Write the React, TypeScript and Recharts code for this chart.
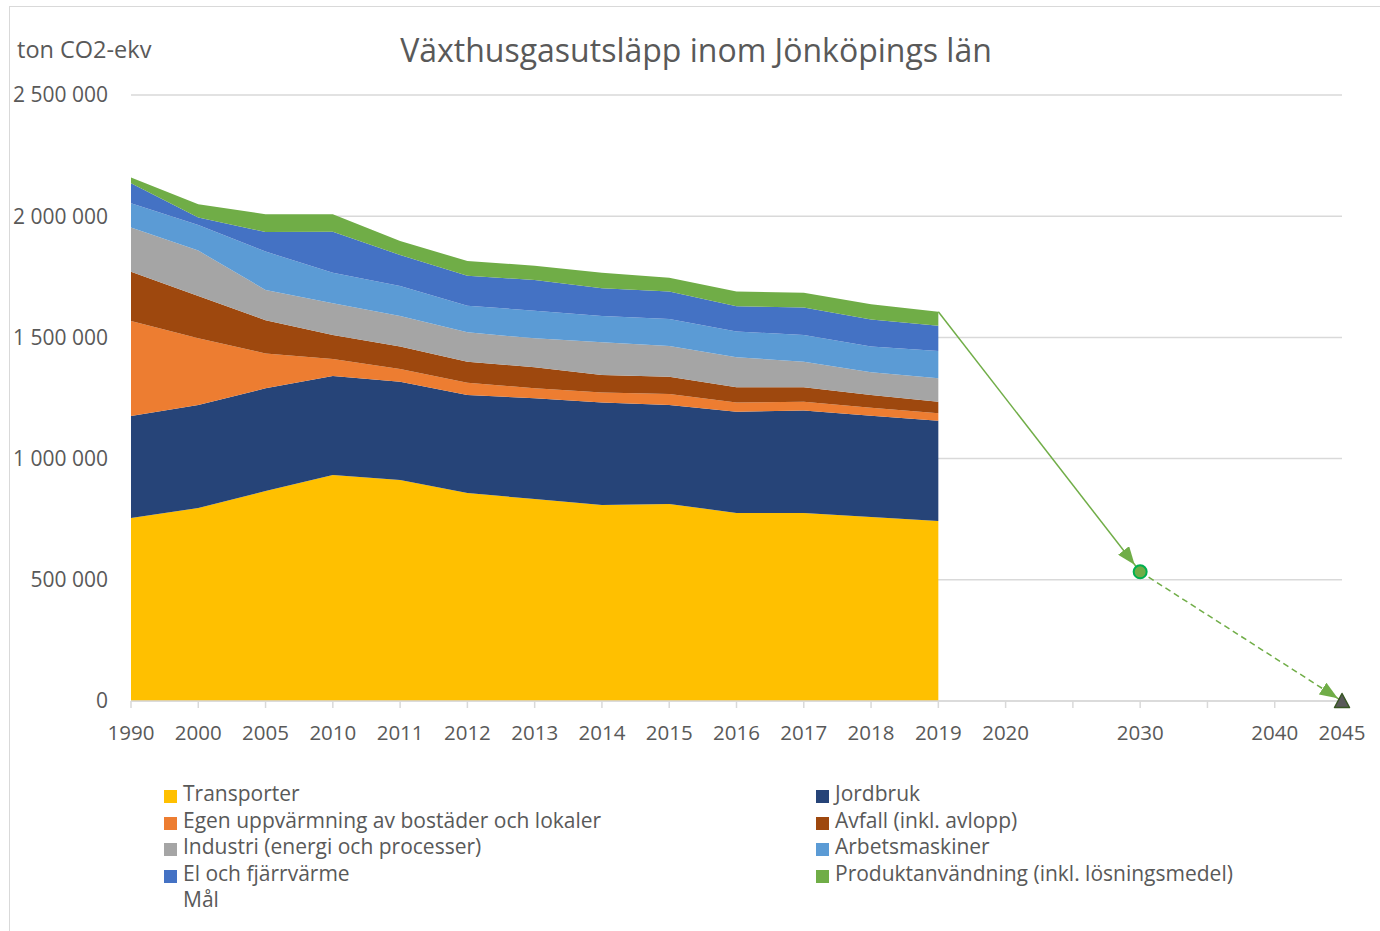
import React from 'react';
import { ComposedChart, Area, Line, XAxis, YAxis, CartesianGrid } from 'recharts';

const categories = ['1990', '2000', '2005', '2010', '2011', '2012', '2013', '2014', '2015', '2016', '2017', '2018', '2019', '2020', '2025', '2030', '2035', '2040', '2045'];
const tickLabels = ['1990', '2000', '2005', '2010', '2011', '2012', '2013', '2014', '2015', '2016', '2017', '2018', '2019', '2020', '', '2030', '', '2040', '2045'];

const N = null;
const transporter = [755000, 796000, 866000, 932000, 912000, 858000, 833000, 809000, 813000, 776000, 776000, 759000, 743000, N, N, N, N, N, N];
const jordbruk = [421000, 425000, 424000, 409000, 405000, 404000, 416000, 422000, 408000, 417000, 422000, 418000, 413000, N, N, N, N, N, N];
const egenUppvarmning = [392000, 275000, 144000, 70000, 53000, 51000, 41000, 42000, 46000, 38000, 37000, 33000, 31000, N, N, N, N, N, N];
const avfall = [203000, 175000, 137000, 99000, 92000, 87000, 87000, 72000, 71000, 63000, 59000, 52000, 48000, N, N, N, N, N, N];
const industri = [182000, 187000, 125000, 131000, 126000, 121000, 119000, 135000, 127000, 124000, 106000, 94000, 96000, N, N, N, N, N, N];
const arbetsmaskiner = [100000, 106000, 158000, 126000, 124000, 110000, 114000, 108000, 111000, 106000, 110000, 106000, 113000, N, N, N, N, N, N];
const elFjarrvarme = [83000, 31000, 81000, 169000, 128000, 123000, 127000, 115000, 113000, 105000, 113000, 112000, 104000, N, N, N, N, N, N];
const produktanvandning = [24000, 54000, 73000, 72000, 58000, 61000, 59000, 64000, 57000, 60000, 61000, 63000, 58000, N, N, N, N, N, N];
const malSolid = [N, N, N, N, N, N, N, N, N, N, N, N, 1606000, N, N, 533000, N, N, N];
const malDashed = [N, N, N, N, N, N, N, N, N, N, N, N, N, N, N, 533000, N, N, 0];

const yTicks = [0, 500000, 1000000, 1500000, 2000000, 2500000];

const SERIES = [
  { key: 'transporter', name: 'Transporter', color: '#FFC000', values: transporter },
  { key: 'jordbruk', name: 'Jordbruk', color: '#264478', values: jordbruk },
  { key: 'egen', name: 'Egen uppvärmning av bostäder och lokaler', color: '#ED7D31', values: egenUppvarmning },
  { key: 'avfall', name: 'Avfall (inkl. avlopp)', color: '#9E480E', values: avfall },
  { key: 'industri', name: 'Industri (energi och processer)', color: '#A5A5A5', values: industri },
  { key: 'arbets', name: 'Arbetsmaskiner', color: '#5B9BD5', values: arbetsmaskiner },
  { key: 'el', name: 'El och fjärrvärme', color: '#4472C4', values: elFjarrvarme },
  { key: 'produkt', name: 'Produktanvändning (inkl. lösningsmedel)', color: '#70AD47', values: produktanvandning },
];

const data = categories.map((year, i) => {
  const row: any = { year, malSolid: malSolid[i], malDashed: malDashed[i] };
  SERIES.forEach((s) => {
    row[s.key] = s.values[i];
  });
  return row;
});

const FONT = "'Open Sans', 'Noto Sans', sans-serif";
const TEXT = '#595959';
const GRID = '#d9d9d9';
const GOAL = '#70AD47';

const fmt = (n: number) => String(n).replace(/\B(?=(\d{3})+(?!\d))/g, ' ');

const idx2030 = categories.indexOf('2030');
const idx2045 = categories.indexOf('2045');

const CircleDot = (props: any) => {
  const { cx, cy, index } = props;
  if (index !== idx2030 || cx == null || cy == null) return <g key={`c${index}`} />;
  return <circle key={`c${index}`} cx={cx} cy={cy} r={6.5} fill={GOAL} stroke="#00B050" strokeWidth={2} />;
};

const TriangleDot = (props: any) => {
  const { cx, cy, index } = props;
  if (index !== idx2045 || cx == null || cy == null) return <g key={`t${index}`} />;
  return (
    <polygon
      key={`t${index}`}
      points={`${cx},${cy - 7.5} ${cx + 7.5},${cy + 6.5} ${cx - 7.5},${cy + 6.5}`}
      fill="#595959"
      stroke="#375623"
      strokeWidth={1.5}
      strokeLinejoin="round"
    />
  );
};

const leftLegend = [SERIES[0], SERIES[2], SERIES[4], SERIES[6]];
const rightLegend = [SERIES[1], SERIES[3], SERIES[5], SERIES[7]];
const ROW_H = 26.6;
const LEG_TOP = 780;

const LegendItem = ({ name, color, left, row }: any) => (
  <div style={{ position: 'absolute', left, top: LEG_TOP + row * ROW_H, height: ROW_H, whiteSpace: 'nowrap' }}>
    {color && (
      <div style={{ position: 'absolute', left: 0, top: 10, width: 13, height: 13, background: color }} />
    )}
    <div style={{ position: 'absolute', left: 19, top: 0, lineHeight: `${ROW_H}px`, fontSize: 21, color: TEXT }}>{name}</div>
  </div>
);

export default function App() {
  return (
    <div style={{ position: 'fixed', left: 0, top: 0, width: 1380, height: 931, overflow: 'hidden', background: '#fff', fontFamily: FONT }}>
      <svg width={0} height={0} style={{ position: 'absolute' }}>
        <defs>
          <marker id="arrowSolid" markerUnits="userSpaceOnUse" markerWidth={18} markerHeight={14} refX={27} refY={7} orient="auto">
            <path d="M0,0 L18,7 L0,14 z" fill={GOAL} />
          </marker>
          <marker id="arrowDashed" markerUnits="userSpaceOnUse" markerWidth={18} markerHeight={14} refX={23} refY={7} orient="auto">
            <path d="M0,0 L18,7 L0,14 z" fill={GOAL} />
          </marker>
        </defs>
      </svg>
      <div style={{ position: 'absolute', left: 9, top: 6, width: 1420, height: 1000, border: `1px solid ${GRID}` }} />
      <div style={{ position: 'absolute', left: 17, top: 32, lineHeight: '34px', fontSize: 23.5, color: TEXT, whiteSpace: 'nowrap' }}>ton CO2-ekv</div>
      <div style={{ position: 'absolute', left: 296, width: 800, top: 29, lineHeight: '42px', fontSize: 32, color: TEXT, textAlign: 'center', whiteSpace: 'nowrap' }}>
        Växthusgasutsläpp inom Jönköpings län
      </div>
      <div style={{ position: 'absolute', left: 0, top: 0 }}>
        <ComposedChart width={1380} height={760} data={data} margin={{ top: 95, right: 38, bottom: 19, left: 0 }}>
          <CartesianGrid vertical={false} stroke={GRID} strokeWidth={1.5} />
          <XAxis
            dataKey="year"
            interval={0}
            tickFormatter={(_v: any, i: number) => tickLabels[i]}
            axisLine={{ stroke: GRID, strokeWidth: 1.5 }}
            tickLine={{ stroke: GRID, strokeWidth: 1.5 }}
            tickSize={7}
            tickMargin={17}
            height={40}
            tick={{ fill: TEXT, fontSize: 20.5, fontFamily: FONT }}
          />
          <YAxis
            domain={[0, 2500000]}
            ticks={yTicks}
            tickFormatter={fmt}
            axisLine={false}
            tickLine={false}
            tickSize={0}
            tickMargin={23}
            width={131}
            tick={{ fill: TEXT, fontSize: 21, fontFamily: FONT }}
          />
          {SERIES.map((s) => (
            <Area
              key={s.key}
              type="linear"
              dataKey={s.key}
              name={s.name}
              stackId="a"
              fill={s.color}
              fillOpacity={1}
              stroke="none"
              dot={false}
              activeDot={false}
              isAnimationActive={false}
            />
          ))}
          <Line
            type="linear"
            dataKey="malDashed"
            name="Mål"
            stroke={GOAL}
            strokeWidth={1.5}
            strokeDasharray="6 4"
            connectNulls
            dot={TriangleDot}
            activeDot={false}
            markerEnd="url(#arrowDashed)"
            isAnimationActive={false}
            legendType="none"
          />
          <Line
            type="linear"
            dataKey="malSolid"
            name="Mål"
            stroke={GOAL}
            strokeWidth={1.5}
            connectNulls
            dot={CircleDot}
            activeDot={false}
            markerEnd="url(#arrowSolid)"
            isAnimationActive={false}
          />
        </ComposedChart>
      </div>
      {leftLegend.map((s, i) => (
        <LegendItem key={s.key} name={s.name} color={s.color} left={164} row={i} />
      ))}
      <LegendItem name="Mål" color={null} left={164} row={4} />
      {rightLegend.map((s, i) => (
        <LegendItem key={s.key} name={s.name} color={s.color} left={816} row={i} />
      ))}
    </div>
  );
}
